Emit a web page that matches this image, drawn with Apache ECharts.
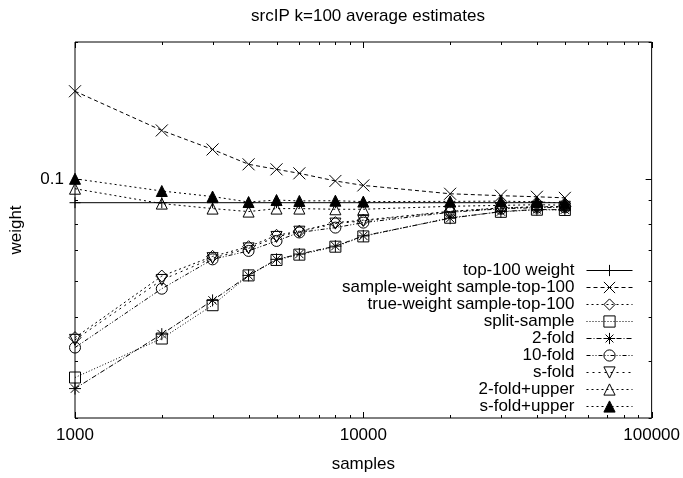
<!DOCTYPE html>
<html>
<head>
<meta charset="utf-8">
<script src="https://cdn.jsdelivr.net/npm/echarts@6/dist/echarts.min.js"></script>
<style>html,body{margin:0;padding:0;background:#fff}#c{width:683px;height:478px}</style>
</head>
<body>
<div id="c"></div>
<script>
const samples = [1000, 2000, 3000, 4000, 5000, 6000, 8000, 10000, 20000, 30000, 40000, 50000];
const top100Weight = [0.0889, 0.0889, 0.0889, 0.0889, 0.0889, 0.0889, 0.0889, 0.0889, 0.0889, 0.0889, 0.0889, 0.0889];
const sampleWeight = [0.156, 0.128, 0.1163, 0.1079, 0.1052, 0.1031, 0.0992, 0.0970, 0.0930, 0.0921, 0.0916, 0.0911];
const trueWeight = [0.0450, 0.0614, 0.0678, 0.0712, 0.0754, 0.0770, 0.0804, 0.0814, 0.0851, 0.0866, 0.0871, 0.0872];
const splitSample = [0.0368, 0.0448, 0.0530, 0.0616, 0.0666, 0.0684, 0.0712, 0.0750, 0.0824, 0.0849, 0.0858, 0.0857];
const twoFold = [0.0348, 0.0458, 0.0543, 0.0616, 0.0668, 0.0686, 0.0714, 0.0752, 0.0822, 0.0850, 0.0859, 0.0858];
const tenFold = [0.0428, 0.0576, 0.0668, 0.0697, 0.0733, 0.0765, 0.0784, 0.0804, 0.0847, 0.0862, 0.0867, 0.0868];
const sFold = [0.0445, 0.0602, 0.0672, 0.0706, 0.0748, 0.0768, 0.0800, 0.0811, 0.0850, 0.0864, 0.0870, 0.0871];
const twoFoldUpper = [0.0954, 0.0885, 0.0863, 0.0850, 0.0863, 0.0863, 0.0860, 0.0860, 0.0873, 0.0877, 0.0880, 0.0878];
const sFoldUpper = [0.1003, 0.0943, 0.0917, 0.0892, 0.0901, 0.0897, 0.0898, 0.0894, 0.0895, 0.0896, 0.0893, 0.0887];

const seriesNames = ['top-100 weight', 'sample-weight sample-top-100', 'true-weight sample-top-100', 'split-sample', '2-fold', '10-fold', 's-fold', '2-fold+upper', 's-fold+upper'];

const xMajorTicks = [1000, 10000, 100000];
const xMinorTicks = [2000, 3000, 4000, 5000, 6000, 7000, 8000, 9000, 20000, 30000, 40000, 50000, 60000, 70000, 80000, 90000];
const yMajorTicks = [0.1];
const yMinorTicks = [0.03, 0.04, 0.05, 0.06, 0.07, 0.08, 0.09, 0.2];
const X_MIN = 1000, X_MAX = 100000, Y_MIN = 0.03, Y_MAX = 0.2;

const FONT = '"Liberation Sans", Arial, Helvetica, sans-serif';
const FS = 17;

function pts(vals) { return samples.map((s, i) => [s, vals[i]]); }

const SYM = {
  plus: 'path://M0,5L10,5M5,0L5,10',
  cross: 'path://M0,0L10,10M10,0L0,10',
  diamond: 'path://M5,0L10,5L5,10L0,5Z',
  square: 'path://M0,0L10,0L10,10L0,10Z',
  star: 'path://M0,5L10,5M5,0L5,10M1.5,1.5L8.5,8.5M8.5,1.5L1.5,8.5',
  circle: 'path://M10,5A5,5,0,1,1,0,5A5,5,0,1,1,10,5Z',
  down: 'path://M0,0L10,0L5,9Z',
  up: 'path://M5,0L10,9L0,9Z'
};

function mk(name, vals, symbol, size, dash, filled) {
  return {
    name: name, type: 'line', data: pts(vals),
    symbol: symbol, symbolSize: size,
    lineStyle: { color: '#000', width: 1, type: dash },
    itemStyle: { color: filled ? '#000' : 'rgba(0,0,0,0)', borderColor: '#000', borderWidth: 1 },
    emphasis: { disabled: true },
    animation: false, z: 3
  };
}

const tickData = [];
xMajorTicks.forEach(v => tickData.push([v, Y_MIN, 0, 6]));
xMinorTicks.forEach(v => tickData.push([v, Y_MIN, 0, 3]));
yMajorTicks.forEach(v => tickData.push([X_MIN, v, 1, 6]));
yMinorTicks.forEach(v => tickData.push([X_MIN, v, 1, 3]));

const chart = echarts.init(document.getElementById('c'), null, { renderer: 'canvas' });
chart.setOption({
  animation: false,
  backgroundColor: '#fff',
  title: {
    text: 'srcIP k=100 average estimates', left: 363, textAlign: 'center', top: 3,
    textStyle: { fontFamily: FONT, fontSize: FS, fontWeight: 'normal', color: '#000' }
  },
  grid: { left: 73, right: 30, top: 42, bottom: 59, show: true, borderColor: '#000', borderWidth: 1, containLabel: false },
  xAxis: {
    type: 'log', logBase: 10, min: X_MIN, max: X_MAX,
    name: 'samples', nameLocation: 'middle', nameGap: 38,
    nameTextStyle: { fontFamily: FONT, fontSize: FS, color: '#000' },
    axisLine: { show: false }, axisTick: { show: false }, splitLine: { show: false },
    axisLabel: { fontFamily: FONT, fontSize: FS, color: '#000', margin: 9,
      formatter: v => (xMajorTicks.some(t => Math.abs(t - v) / t < 1e-6) ? String(Math.round(v)) : '') }
  },
  yAxis: {
    type: 'log', logBase: 10, min: Y_MIN, max: Y_MAX,
    name: 'weight', nameLocation: 'middle', nameGap: 50, nameRotate: 90,
    nameTextStyle: { fontFamily: FONT, fontSize: FS, color: '#000' },
    axisLine: { show: false }, axisTick: { show: false }, splitLine: { show: false },
    axisLabel: { fontFamily: FONT, fontSize: FS, color: '#000', margin: 11, showMinLabel: false, showMaxLabel: false,
      formatter: v => (yMajorTicks.some(t => Math.abs(t - v) / t < 1e-6) ? String(v) : '') }
  },
  legend: {
    orient: 'vertical', align: 'right', right: 45, top: 257,
    itemWidth: 46, itemHeight: 14, itemGap: 0,
    lineStyle: { width: 1 },
    itemStyle: { borderWidth: 1 },
    textStyle: { fontFamily: FONT, fontSize: FS, color: '#000', lineHeight: 17, padding: [0, 7, 0, 0] },
    data: seriesNames, selectedMode: false
  },
  series: [
    mk(seriesNames[0], top100Weight, SYM.plus, 11, 'solid', false),
    mk(seriesNames[1], sampleWeight, SYM.cross, 12, [4, 3], false),
    mk(seriesNames[2], trueWeight, SYM.diamond, 12, [2, 3], false),
    mk(seriesNames[3], splitSample, SYM.square, 11, [1, 2], false),
    mk(seriesNames[4], twoFold, SYM.star, 12, [5, 2, 1, 2], false),
    mk(seriesNames[5], tenFold, SYM.circle, 11, [4, 2, 1, 2, 1, 2], false),
    mk(seriesNames[6], sFold, SYM.down, 11, [2, 4], false),
    mk(seriesNames[7], twoFoldUpper, SYM.up, 11, [2, 3], false),
    mk(seriesNames[8], sFoldUpper, SYM.up, 11, [2, 3], true),
    {
      type: 'custom', silent: true, z: 5, data: tickData, clip: false,
      renderItem: function (params, api) {
        const axis = api.value(2), len = api.value(3);
        const st = { stroke: '#000', lineWidth: 1 };
        if (axis === 0) {
          const xv = api.value(0);
          const b = api.coord([xv, Y_MIN]), t = api.coord([xv, Y_MAX]);
          const x = Math.round(b[0]) + 0.5;
          return { type: 'group', children: [
            { type: 'line', shape: { x1: x, y1: b[1], x2: x, y2: b[1] - len }, style: st },
            { type: 'line', shape: { x1: x, y1: t[1], x2: x, y2: t[1] + len }, style: st }
          ] };
        } else {
          const yv = api.value(1);
          const l = api.coord([X_MIN, yv]), r = api.coord([X_MAX, yv]);
          const y = Math.round(l[1]) + 0.5;
          return { type: 'group', children: [
            { type: 'line', shape: { x1: l[0], y1: y, x2: l[0] + len, y2: y }, style: st },
            { type: 'line', shape: { x1: r[0], y1: y, x2: r[0] - len, y2: y }, style: st }
          ] };
        }
      }
    }
  ]
});
</script>
</body>
</html>
